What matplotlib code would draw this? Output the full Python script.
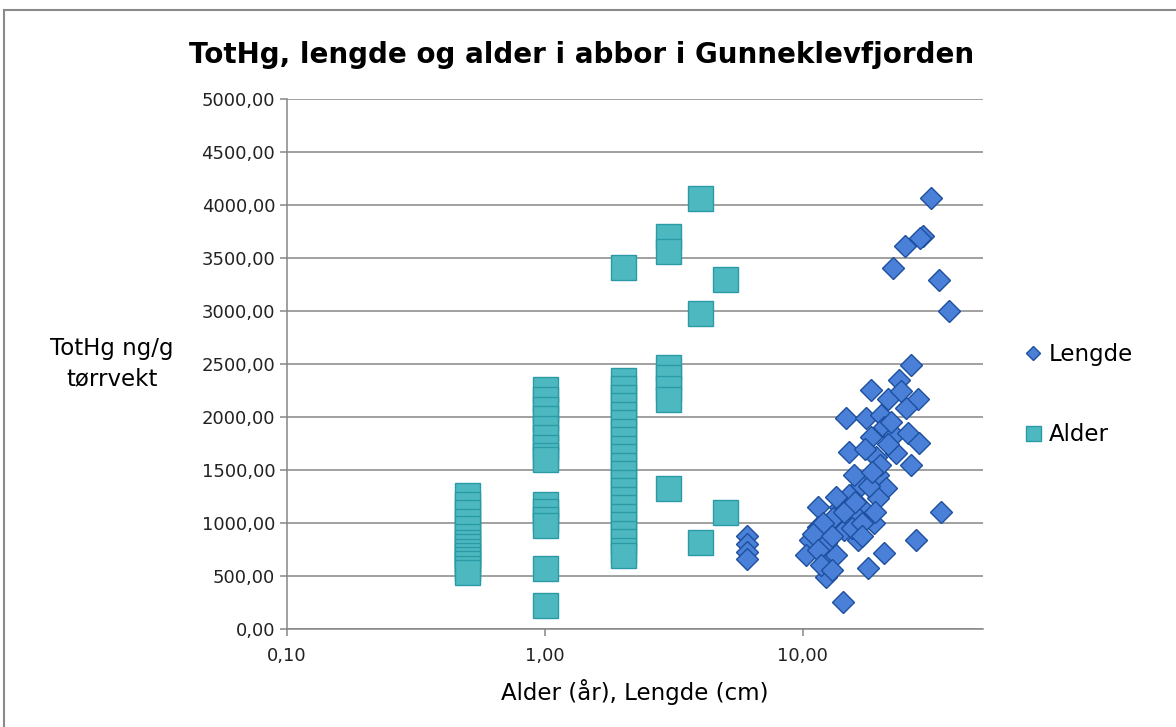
import matplotlib
matplotlib.use('Agg')
import matplotlib.pyplot as plt
from matplotlib.ticker import FuncFormatter, FixedLocator, NullLocator
from matplotlib.patches import Rectangle

# Lengde (cm) vs TotHg
lengde_cm = [31.5, 29.3, 28.5, 24.9, 22.4, 33.8, 37.0,
             26.3, 23.6, 18.4, 21.4, 28.0, 25.2, 14.7, 17.6, 20.1,
             20.7, 18.4, 22.6, 25.6, 28.3, 15.1, 19.2, 23.0, 26.3, 19.6,
             16.8, 21.1, 15.1, 19.6, 11.5, 14.0, 16.8, 34.4, 13.1, 16.4,
             18.9, 11.5, 14.4, 27.6, 10.7, 12.3, 16.4, 20.7, 10.3, 12.3,
             17.9, 12.3, 14.3,
             13.5, 15.8, 17.5, 18.0, 12.0, 11.0, 13.0, 11.5, 13.5, 14.5,
             15.5, 16.0, 17.0, 19.0, 20.0, 21.5, 22.0, 24.0, 11.8, 13.0,
             17.0, 18.5,
             6.1, 6.1, 6.1, 6.1]
lengde_hg = [4064, 3705, 3690, 3610, 3403, 3290, 2996,
             2495, 2353, 2259, 2174, 2174, 2089, 1994, 1994, 2022,
             1910, 1815, 1834, 1853, 1758, 1673, 1626, 1663, 1550, 1456,
             1361, 1333, 1267, 1238, 1153, 1153, 1153, 1106, 1049, 1049,
             1002, 964, 936, 841, 841, 813, 841, 718, 699, 652,
             577, 491, 255,
             1250, 1450, 1700, 1350, 1000, 900, 880, 750, 700, 1100,
             950, 1200, 1000, 1100, 1550, 1750, 1950, 2250, 600, 560,
             880, 1480,
             880, 800, 730, 660]

# Alder (år) vs TotHg
alder_aar = [0.5] * 14 + [1] * 15 + [2] * 23 + [3] * 7 + [4] * 3 + [5] * 2
alder_hg = [1260, 1180, 1100, 1020, 950, 880, 820, 780, 740, 700, 660, 620, 580, 540,
            2260, 2170, 2080, 1990, 1900, 1810, 1720, 1640, 1600, 1180, 1110, 1040, 985, 576, 227,
            3412, 2353, 2270, 2190, 2110, 2030, 1950, 1870, 1790, 1710, 1630, 1550, 1470, 1390,
            1310, 1230, 1150, 1070, 990, 910, 830, 750, 700,
            3705, 3570, 2476, 2380, 2270, 2170, 1333,
            4064, 2985, 822,
            3300, 1106]

x_ticks = [0.1, 1, 10]
y_ticks = list(range(0, 5001, 500))

fig = plt.figure(figsize=(11.76, 7.27), dpi=100)
ax = fig.add_axes([287 / 1176, 1 - 629 / 727, (983 - 287) / 1176, (629 - 99) / 727])

grid_c = '#868686'
ax.set_xscale('log')
ax.set_xlim(0.1, 50)
ax.set_ylim(0, 5000)

ax.plot(lengde_cm, lengde_hg, linestyle='none', marker='D', ms=11.5,
        mfc='#4a80d8', mec='#1d4f9e', mew=1.0, label='Lengde', zorder=3)
ax.plot(alder_aar, alder_hg, linestyle='none', marker='s', ms=18,
        mfc='#4db8c0', mec='#2a9aa6', mew=1.0, label='Alder', zorder=3)

comma = lambda v, p: f'{v:.2f}'.replace('.', ',')
ax.xaxis.set_major_locator(FixedLocator(x_ticks))
ax.xaxis.set_minor_locator(NullLocator())
ax.xaxis.set_major_formatter(FuncFormatter(comma))
ax.yaxis.set_major_locator(FixedLocator(y_ticks))
ax.yaxis.set_major_formatter(FuncFormatter(comma))

ax.grid(axis='y', color=grid_c, linewidth=1.1, zorder=0)
ax.set_axisbelow(True)
for s in ['top', 'right']:
    ax.spines[s].set_visible(False)
for s in ['left', 'bottom']:
    ax.spines[s].set_color(grid_c)
    ax.spines[s].set_linewidth(1.1)
ax.tick_params(axis='both', colors=grid_c, labelcolor='#222222', labelsize=13,
               length=5, width=1.1, direction='out')
ax.tick_params(axis='x', pad=8)

ax.set_xlabel('Alder (år), Lengde (cm)', fontsize=16.5, labelpad=10)
ax.set_ylabel('TotHg ng/g\ntørrvekt', fontsize=16.5, rotation=0, ha='center',
              va='center', linespacing=1.4)
ax.yaxis.set_label_coords(-0.252, 0.5)

fig.text(582 / 1176, 1 - 55 / 727, 'TotHg, lengde og alder i abbor i Gunneklevfjorden',
         fontsize=20, fontweight='bold', ha='center', va='center')

ax.legend(loc='center left', bbox_to_anchor=(1.033, 0.442), frameon=False,
          fontsize=16.5, markerscale=0.6, labelspacing=2.5,
          handlelength=0.6, handletextpad=0.35)

fig.add_artist(Rectangle((4 / 1176, -0.1), 1.2, 1 - 10 / 727 + 0.1,
                         transform=fig.transFigure, fill=False,
                         edgecolor='#8a8a8a', linewidth=1.5))

fig.savefig('out.png', dpi=100)
